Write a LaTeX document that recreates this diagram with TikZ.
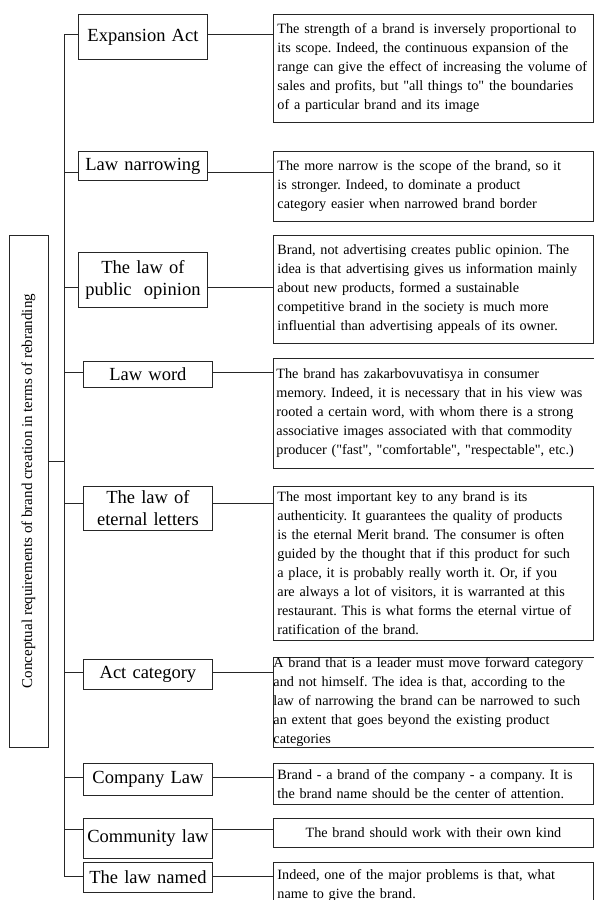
\documentclass[tikz,border=0pt]{standalone}
\usepackage{fontspec}
\usepackage{graphicx}
\setmainfont{Liberation Serif}
\frenchspacing
\newcommand\dq{\textquotedbl}
\tikzset{
    lawbox/.style={draw=black!85, line width=0.9pt, align=center, inner sep=1pt,
        text width=127pt, font=\fontsize{18.5}{22}\selectfont, anchor=north west},
    descbox/.style={draw=black!85, line width=0.9pt, align=left, inner xsep=4pt, inner ysep=0pt,
        text width=312pt, font=\fontsize{14.2}{19}\selectfont, anchor=north west},
    link/.style={draw=black!85, line width=0.9pt}
}
\begin{document}
\begin{tikzpicture}[x=1pt, y=-1pt]
    \useasboundingbox (0,0) rectangle (594,900);
    \clip (0,0) rectangle (594,900);

    % 左侧标题
    \node[draw=black!85, line width=0.9pt, minimum width=39pt, minimum height=512pt, inner sep=0pt,
        font=\fontsize{15}{17}\selectfont] (title) at (28.5,491)
        {\rotatebox{90}{Conceptual requirements of brand creation in terms of rebranding}};

    % 各条定律
    \node[lawbox, minimum height=45pt] (law1) at (78,14) {Expansion Act};
    \node[lawbox, minimum height=29pt] (law2) at (78,151) {Law narrowing};
    \node[lawbox, minimum height=55pt] (law3) at (78,252) {The law of\\public~ opinion};
    \node[lawbox, minimum height=26pt] (law4) at (83,361) {Law word};
    \node[lawbox, minimum height=44pt] (law5) at (83,486) {The law of\\eternal letters};
    \node[lawbox, minimum height=30pt] (law6) at (83,659) {Act category};
    \node[lawbox, minimum height=32pt] (law7) at (83,763) {Company Law};
    \node[lawbox, minimum height=40pt] (law8) at (83,818) {Community law};
    \node[lawbox, minimum height=30pt] (law9) at (83,862) {The law named};

    % 说明文字
    \node[descbox, minimum height=108pt] (desc1) at (273,14)
        {The strength of a brand is inversely proportional to\\its scope. Indeed, the continuous expansion of the\\range can give the effect of increasing the volume of\\sales and profits, but \dq all things to\dq{} the boundaries\\of a particular brand and its image};
    \node[descbox, minimum height=70pt] (desc2) at (273,151)
        {The more narrow is the scope of the brand, so it\\is stronger. Indeed, to dominate a product\\category easier when narrowed brand border};
    \node[descbox, minimum height=108pt] (desc3) at (273,235)
        {Brand, not advertising creates public opinion. The\\idea is that advertising gives us information mainly\\about new products, formed a sustainable\\competitive brand in the society is much more\\influential than advertising appeals of its owner.};
    \node[descbox, inner xsep=3pt, text width=330pt, minimum height=110pt] (desc4) at (273,358)
        {The brand has zakarbovuvatisya in consumer\\memory. Indeed, it is necessary that in his view was\\rooted a certain word, with whom there is a strong\\associative images associated with that commodity\\producer (\dq fast\dq, \dq comfortable\dq, \dq respectable\dq, etc.)};
    \node[descbox, minimum height=154pt] (desc5) at (273,486)
        {The most important key to any brand is its\\authenticity. It guarantees the quality of products\\is the eternal Merit brand. The consumer is often\\guided by the thought that if this product for such\\a place, it is probably really worth it. Or, if you\\are always a lot of visitors, it is warranted at this\\restaurant. This is what forms the eternal virtue of\\ratification of the brand.};
    \node[descbox, inner xsep=0pt, text width=330pt, minimum height=90pt] (desc6) at (273,657)
        {A brand that is a leader must move forward category\\and not himself. The idea is that, according to the\\law of narrowing the brand can be narrowed to such\\an extent that goes beyond the existing product\\categories};
    \node[descbox, minimum height=41pt] (desc7) at (273,763)
        {Brand - a brand of the company - a company. It is\\the brand name should be the center of attention.};
    \node[descbox, align=center, minimum height=29pt] (desc8) at (273,818)
        {The brand should work with their own kind};
    \node[descbox, minimum height=46pt] (desc9) at (273,862)
        {Indeed, one of the major problems is that, what\\name to give the brand.};

    % 连线
    \coordinate (ttop) at (64,34);
    \coordinate (tbot) at (64,876);
    \draw[link] (ttop) -- (tbot);
    \draw[link] ([yshift=30pt]title.east) -- ([yshift=30pt]title.east -| ttop);
    \foreach \n/\s in {1/2.5, 2/-6.5, 3/-7.5, 4/2, 5/5, 6/2, 7/2, 8/9, 9/1} {
        \draw[link] ([yshift=\s pt]law\n.west -| ttop) -- ([yshift=\s pt]law\n.west);
        \draw[link] ([yshift=\s pt]law\n.east) -- ([yshift=\s pt]law\n.east -| desc\n.west);
    }
\end{tikzpicture}
\end{document}
